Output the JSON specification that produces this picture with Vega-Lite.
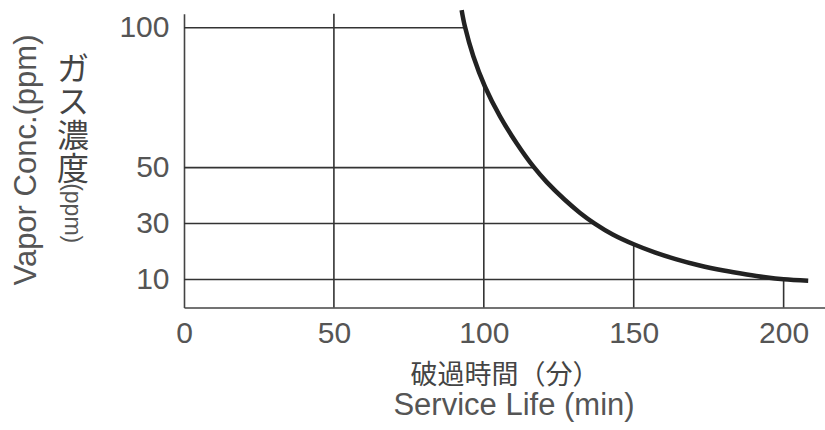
{
  "$schema": "https://vega.github.io/schema/vega-lite/v6.json",
  "width": 641,
  "height": 293.8,
  "autosize": {"type": "none"},
  "padding": {"left": 184, "top": 13.7, "right": 0, "bottom": 122.5},
  "background": "white",
  "config": {
    "view": {"stroke": null},
    "axis": {"grid": false, "ticks": false, "labelFont": "Liberation Sans", "labelColor": "#555", "titleColor": "#555", "titleFontWeight": "normal", "domainColor": "#444", "domainWidth": 1.6}
  },
  "datasets": {
    "hlines": [
      {"level": 100, "xstart": 0, "xend": 93.7},
      {"level": 50, "xstart": 0, "xend": 116.5},
      {"level": 30, "xstart": 0, "xend": 137},
      {"level": 10, "xstart": 0, "xend": 200}
    ],
    "vlines": [
      {"time": 50, "ystart": 0, "yend": 105},
      {"time": 100, "ystart": 0, "yend": 78.9},
      {"time": 150, "ystart": 0, "yend": 23},
      {"time": 200, "ystart": 0, "yend": 10}
    ],
    "curve": [
      {"time": 92.6, "conc": 106.3},
      {"time": 93.7, "conc": 100.4},
      {"time": 96.5, "conc": 89.8},
      {"time": 100.4, "conc": 78.9},
      {"time": 105.4, "conc": 68.3},
      {"time": 111.0, "conc": 58.6},
      {"time": 116.5, "conc": 50.4},
      {"time": 121.0, "conc": 44.8},
      {"time": 127.0, "conc": 38.5},
      {"time": 132.0, "conc": 33.9},
      {"time": 137.0, "conc": 30.0},
      {"time": 143.0, "conc": 26.1},
      {"time": 150.0, "conc": 22.6},
      {"time": 157.0, "conc": 19.7},
      {"time": 164.0, "conc": 17.3},
      {"time": 172.0, "conc": 15.0},
      {"time": 180.0, "conc": 13.2},
      {"time": 187.7, "conc": 11.8},
      {"time": 194.0, "conc": 10.8},
      {"time": 200.0, "conc": 10.1},
      {"time": 208.2, "conc": 9.6}
    ]
  },
  "resolve": {"axis": {"x": "independent", "y": "independent"}},
  "layer": [
    {
      "data": {"name": "hlines"},
      "mark": {"type": "rule", "color": "#333", "strokeWidth": 1.6},
      "encoding": {
        "x": {"field": "xstart", "type": "quantitative",
          "scale": {"domain": [0, 213.8], "nice": false},
          "axis": {"orient": "bottom", "values": [0, 50, 100, 150, 200], "labelFontSize": 30, "labelPadding": 11, "labelFlush": false,
            "title": "破過時間（分）", "titleFont": "Noto Sans CJK JP", "titleFontSize": 27, "titleX": 320.5, "titleY": 67.7, "titleBaseline": "middle", "titleAlign": "center", "titleColor": "#444"}},
        "x2": {"field": "xend"},
        "y": {"field": "level", "type": "quantitative",
          "scale": {"domain": [0, 105], "nice": false},
          "axis": {"orient": "left", "values": [10, 30, 50, 100], "labelFontSize": 30, "labelPadding": 15, "labelBaseline": "middle",
            "title": ["ガ", "ス", "濃", "度"], "titleFont": "Noto Sans CJK JP", "titleFontSize": 32, "titleLineHeight": 33.5, "titleAngle": 0, "titleAlign": "center", "titleBaseline": "top", "titleX": -111.5, "titleY": 40.6, "titleColor": "#444"}}
      }
    },
    {
      "data": {"name": "vlines"},
      "mark": {"type": "rule", "color": "#333", "strokeWidth": 1.6},
      "encoding": {
        "x": {"field": "time", "type": "quantitative",
          "scale": {"domain": [0, 213.8], "nice": false},
          "axis": {"orient": "bottom", "domain": false, "labels": false, "ticks": false,
            "title": "Service Life (min)", "titleFont": "Liberation Sans", "titleFontSize": 31, "titleX": 329.5, "titleY": 98.3, "titleBaseline": "middle", "titleAlign": "center"}},
        "y": {"field": "ystart", "type": "quantitative",
          "scale": {"domain": [0, 105], "nice": false},
          "axis": {"orient": "left", "domain": false, "labels": false, "ticks": false,
            "title": "(ppm)", "titleFont": "Liberation Sans", "titleFontSize": 23, "titleAngle": 90, "titleAlign": "center", "titleBaseline": "middle", "titleX": -113, "titleY": 199}},
        "y2": {"field": "yend"}
      }
    },
    {
      "data": {"name": "curve"},
      "mark": {"type": "line", "color": "#222", "strokeWidth": 4.5, "interpolate": "catmull-rom", "clip": false},
      "encoding": {
        "x": {"field": "time", "type": "quantitative", "scale": {"domain": [0, 213.8], "nice": false}, "axis": null},
        "y": {"field": "conc", "type": "quantitative",
          "scale": {"domain": [0, 105], "nice": false},
          "axis": {"orient": "left", "domain": false, "labels": false, "ticks": false,
            "title": "Vapor Conc.(ppm)", "titleFont": "Liberation Sans", "titleFontSize": 31, "titleAngle": -90, "titleAlign": "center", "titleBaseline": "middle", "titleX": -157.2, "titleY": 145.8}}
      }
    }
  ]
}
